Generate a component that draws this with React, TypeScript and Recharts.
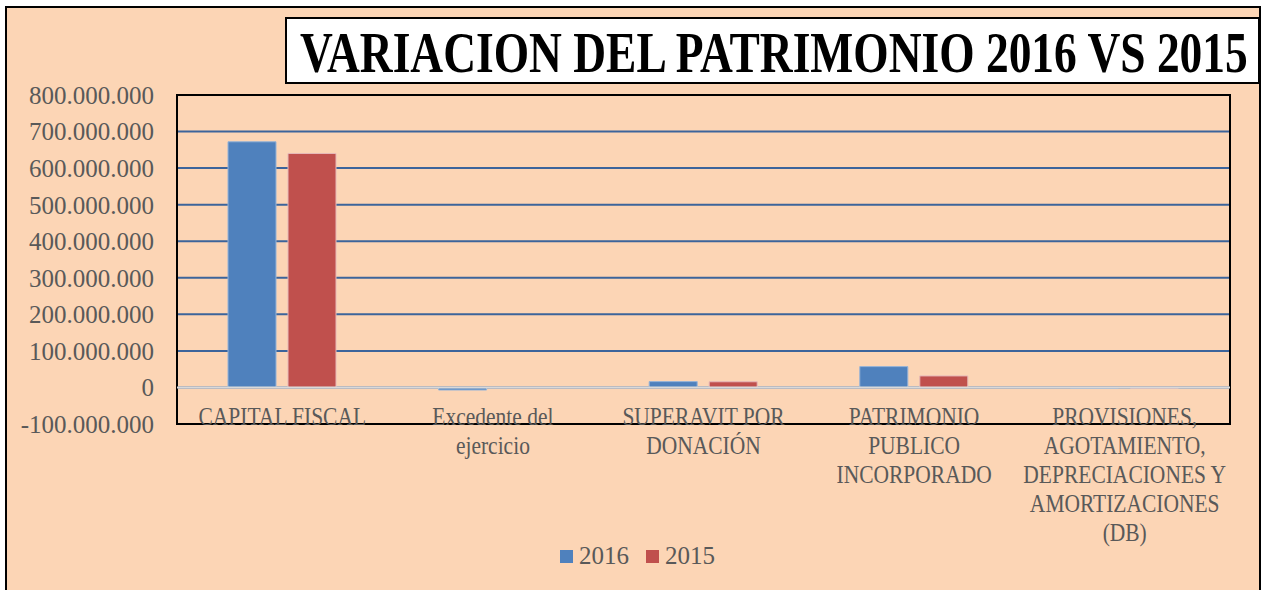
import React from 'react';
import { BarChart, Bar, XAxis, YAxis, CartesianGrid, ReferenceLine, ReferenceArea, Legend } from 'recharts';

const title = 'VARIACION DEL PATRIMONIO 2016 VS 2015';
const categories = [
  'CAPITAL FISCAL',
  'Excedente del ejercicio',
  'SUPERAVIT POR DONACIÓN',
  'PATRIMONIO PUBLICO INCORPORADO',
  'PROVISIONES, AGOTAMIENTO, DEPRECIACIONES Y AMORTIZACIONES (DB)',
];
const categoryLines = [
  ['CAPITAL FISCAL'],
  ['Excedente del', 'ejercicio'],
  ['SUPERAVIT POR', 'DONACIÓN'],
  ['PATRIMONIO', 'PUBLICO', 'INCORPORADO'],
  ['PROVISIONES,', 'AGOTAMIENTO,', 'DEPRECIACIONES Y', 'AMORTIZACIONES', '(DB)'],
];
const seriesNames = ['2016', '2015'];
const values2016 = [672000000, -7000000, 16000000, 57000000, -2000000];
const values2015 = [640000000, 0, 15500000, 31500000, -2000000];
const yTicks = [-100000000, 0, 100000000, 200000000, 300000000, 400000000, 500000000, 600000000, 700000000, 800000000];

const data = categories.map((c, i) => ({ name: c, v2016: values2016[i], v2015: values2015[i] }));

const FONT = '"Liberation Serif", "Times New Roman", serif';
const TEXT = '#595959';

const fmt = (v: number) => {
  const s = Math.abs(v).toString().replace(/\B(?=(\d{3})+(?!\d))/g, '.');
  return (v < 0 ? '-' : '') + s;
};

const CategoryTick = (props: any) => {
  const { x, y, payload } = props;
  const idx = categories.indexOf(payload.value);
  const lines = idx >= 0 ? categoryLines[idx] : [String(payload.value)];
  return (
    <g transform={`translate(${x},${y})`}>
      <text textAnchor="middle" fill={TEXT} fontSize={25} fontFamily={FONT} transform="scale(0.86,1)">
        {lines.map((l, i) => (
          <tspan key={i} x={0} y={1 + i * 29}>{l}</tspan>
        ))}
      </text>
    </g>
  );
};

const LegendContent = (props: any) => {
  const items = [...(props.payload || [])].sort(
    (a: any, b: any) => seriesNames.indexOf(a.value) - seriesNames.indexOf(b.value)
  );
  return (
    <div style={{ display: 'flex', justifyContent: 'center', alignItems: 'center', paddingLeft: 12, fontFamily: FONT, fontSize: 25, color: TEXT, lineHeight: '30px' }}>
      {items.map((p: any, i: number) => (
        <div key={i} style={{ display: 'flex', alignItems: 'center', marginLeft: i === 0 ? 0 : 17 }}>
          <span style={{ display: 'inline-block', width: 13, height: 13, background: p.color, marginRight: 6 }} />
          <span>{p.value}</span>
        </div>
      ))}
    </div>
  );
};

export default function App() {
  return (
    <div style={{ position: 'relative', width: 1263, height: 590, background: '#fff', overflow: 'hidden' }}>
      <style>{'body{margin:0}'}</style>
      <div style={{ position: 'absolute', left: 5, top: 6, width: 1252, height: 600, background: '#FCD5B5', border: '2px solid #000' }} />
      <div style={{ position: 'absolute', left: 0, top: 0 }}>
        <BarChart width={1263} height={590} data={data} margin={{ top: 95, right: 33, left: 0, bottom: 0 }} barSize={48} barGap={12}>
          <CartesianGrid horizontal vertical={false} stroke="#3C649B" strokeWidth={2} />
          <XAxis dataKey="name" height={166} axisLine={false} tickLine={false} tickSize={0} tickMargin={0} interval={0} tick={<CategoryTick />} />
          <YAxis width={177} domain={[-100000000, 800000000]} ticks={yTicks} tickFormatter={fmt} axisLine={false} tickLine={false} tickSize={0} tickMargin={23}
            tick={{ fill: TEXT, fontSize: 25, fontFamily: FONT }} allowDataOverflow />
          <ReferenceLine y={0} stroke="#D9D9D9" strokeWidth={2} />
          <Bar dataKey="v2016" name={seriesNames[0]} fill="#4F81BD" stroke="#95B3D7" strokeWidth={1} isAnimationActive={false} />
          <Bar dataKey="v2015" name={seriesNames[1]} fill="#C0504D" stroke="#E6B9B8" strokeWidth={1} isAnimationActive={false} />
          <ReferenceArea y1={-100000000} y2={800000000} fill="none" fillOpacity={0} stroke="#000" strokeWidth={2} ifOverflow="visible" />
          <Legend verticalAlign="middle" align="center" layout="horizontal" content={<LegendContent />}
            wrapperStyle={{ top: 541, left: 0, width: 1263, height: 30 }} />
        </BarChart>
      </div>
      <svg style={{ position: 'absolute', left: 0, top: 0 }} width={1263} height={100}>
        <rect x={286} y={18} width={973} height={65} fill="#fff" stroke="#000" strokeWidth={2} />
        <g transform="translate(300,72) scale(0.798,1)">
          <text x={0} y={0} fontFamily={FONT} fontWeight="bold" fontSize={57} fill="#000">{title}</text>
        </g>
      </svg>
    </div>
  );
}
